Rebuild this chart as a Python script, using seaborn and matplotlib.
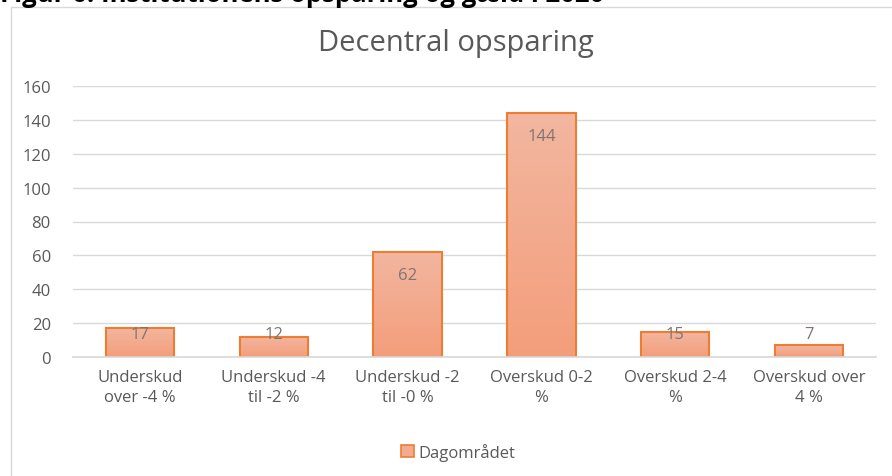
import seaborn as sns
import matplotlib.pyplot as plt
import numpy as np
import pandas as pd
from matplotlib.patches import Rectangle
from matplotlib.colors import LinearSegmentedColormap

categories = ["Underskud\nover -4 %", "Underskud -4\ntil -2 %", "Underskud -2\ntil -0 %",
              "Overskud 0-2\n%", "Overskud 2-4\n%", "Overskud over\n4 %"]
values = [17, 12, 62, 144, 15, 7]
series_name = "Dagområdet"

df = pd.DataFrame({"kategori": categories, "antal": values, "serie": series_name})

sns.set_theme(style="white")
plt.rcParams['font.family'] = ['Open Sans', 'DejaVu Sans']

fig = plt.figure(figsize=(8.92, 4.77), dpi=100)
ax = fig.add_axes([73 / 892, 1 - 358 / 477, 803 / 892, 271 / 477])

sns.barplot(data=df, x="kategori", y="antal", color="#f4a582", width=0.51,
            edgecolor="#ed7d31", linewidth=1.5, ax=ax)

# gradient fill inside the bars, lighter at the top
grad = np.linspace(0, 1, 256).reshape(-1, 1)
cmap = LinearSegmentedColormap.from_list("g", ["#f49e7b", "#f2b6a0"])
for p in ax.patches:
    x0, y0 = p.get_x(), p.get_y()
    w, h = p.get_width(), p.get_height()
    im = ax.imshow(grad, cmap=cmap, aspect="auto", origin="lower",
                   extent=[x0, x0 + w, y0, y0 + h], zorder=p.get_zorder() - 0.1)
    im.set_clip_path(p)
    p.set_facecolor("none")
    ax.text(x0 + w / 2, max(h - 13.5, 13.5), str(int(h)), ha="center", va="center",
            fontsize=12, color="#7f7470")

ax.set_xlim(-0.5, len(categories) - 0.5)
ax.set_ylim(0, 160)
ax.set_yticks(range(0, 161, 20))
ax.yaxis.grid(True, color="#d9d9d9", linewidth=1)
ax.set_axisbelow(True)
for s in ["top", "right", "left"]:
    ax.spines[s].set_visible(False)
ax.spines["bottom"].set_color("#d9d9d9")
ax.tick_params(axis="both", length=0, labelsize=12, colors="#595959")
ax.tick_params(axis="x", pad=9)
ax.tick_params(axis="y", pad=16)
for t in ax.get_xticklabels():
    t.set_linespacing(1.3)
ax.set_xlabel("")
ax.set_ylabel("")

fig.text(456 / 892, 1 - 44 / 477, "Decentral opsparing", ha="center", va="center",
         fontsize=21, color="#595959")
fig.text(0.0, 1 - 2 / 477, "Figur 6: Institutionens opsparing og gæld i 2020", ha="left",
         va="baseline", fontsize=18.5, fontweight="bold", color="black")

# chart frame
fig.patches.append(Rectangle((10.5 / 892, -0.01), 1.2, 1 - 8 / 477 + 0.01,
                             transform=fig.transFigure, fill=False,
                             edgecolor="#d9d9d9", linewidth=1))

handle = Rectangle((0, 0), 1, 1, facecolor="#f2ab90", edgecolor="#ed7d31", linewidth=1.2)
fig.legend([handle], [series_name], loc="center", bbox_to_anchor=(458 / 892, 1 - 453 / 477),
           frameon=False, fontsize=12, labelcolor="#595959", handlelength=0.75,
           handleheight=0.75, handletextpad=0.25)

fig.savefig("out.png", dpi=100)
